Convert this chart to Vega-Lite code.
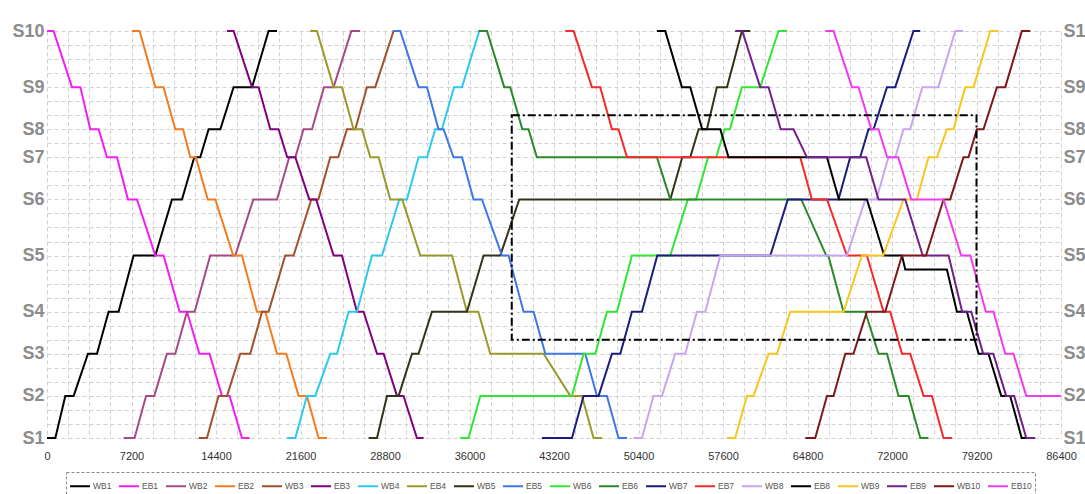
{
"$schema": "https://vega.github.io/schema/vega-lite/v6.json",
"autosize": {"type": "none"},
"width": 1014,
"height": 407,
"padding": {"left": 47, "top": 31, "right": 24, "bottom": 56},
"background": "white",
"config": {
  "view": {"stroke": null},
  "axis": {"domain": false, "ticks": false, "tickSize": 0, "gridColor": "#d0d0d0", "gridDash": [4, 3], "gridWidth": 1, "labelFont": "Liberation Sans", "titleFont": "Liberation Sans"},
  "legend": {"labelFont": "Liberation Sans"}
},
"datasets": {
  "box": [{"t1": 39600, "t2": 79200, "d1": 7, "d2": 23}],
  "trains": [
{"n":"WB1","t":0,"d":0},{"n":"WB1","t":710,"d":0},{"n":"WB1","t":1560,"d":3},{"n":"WB1","t":2270,"d":3},{"n":"WB1","t":3490,"d":6},{"n":"WB1","t":4260,"d":6},{"n":"WB1","t":5250,"d":9},{"n":"WB1","t":6100,"d":9},{"n":"WB1","t":7380,"d":13},{"n":"WB1","t":9230,"d":13},{"n":"WB1","t":10650,"d":17},{"n":"WB1","t":11500,"d":17},{"n":"WB1","t":12550,"d":20},{"n":"WB1","t":13060,"d":20},{"n":"WB1","t":13770,"d":22},{"n":"WB1","t":14770,"d":22},{"n":"WB1","t":15900,"d":25},{"n":"WB1","t":17470,"d":25},{"n":"WB1","t":18880,"d":29},{"n":"WB1","t":19600,"d":29},
{"n":"EB1","t":0,"d":29},{"n":"EB1","t":560,"d":29},{"n":"EB1","t":2130,"d":25},{"n":"EB1","t":2840,"d":25},{"n":"EB1","t":3690,"d":22},{"n":"EB1","t":4400,"d":22},{"n":"EB1","t":5110,"d":20},{"n":"EB1","t":5960,"d":20},{"n":"EB1","t":6900,"d":17},{"n":"EB1","t":7670,"d":17},{"n":"EB1","t":9230,"d":13},{"n":"EB1","t":9930,"d":13},{"n":"EB1","t":11300,"d":9},{"n":"EB1","t":11930,"d":9},{"n":"EB1","t":12980,"d":6},{"n":"EB1","t":13850,"d":6},{"n":"EB1","t":14910,"d":3},{"n":"EB1","t":15560,"d":3},{"n":"EB1","t":16610,"d":0},{"n":"EB1","t":17260,"d":0},
{"n":"WB2","t":6530,"d":0},{"n":"WB2","t":7460,"d":0},{"n":"WB2","t":8440,"d":3},{"n":"WB2","t":9140,"d":3},{"n":"WB2","t":10220,"d":6},{"n":"WB2","t":10930,"d":6},{"n":"WB2","t":11930,"d":9},{"n":"WB2","t":12580,"d":9},{"n":"WB2","t":13910,"d":13},{"n":"WB2","t":16040,"d":13},{"n":"WB2","t":17580,"d":17},{"n":"WB2","t":19600,"d":17},{"n":"WB2","t":20640,"d":20},{"n":"WB2","t":21160,"d":20},{"n":"WB2","t":21860,"d":22},{"n":"WB2","t":22580,"d":22},{"n":"WB2","t":23600,"d":25},{"n":"WB2","t":24420,"d":25},{"n":"WB2","t":25930,"d":29},{"n":"WB2","t":26690,"d":29},
{"n":"EB2","t":7240,"d":29},{"n":"EB2","t":7890,"d":29},{"n":"EB2","t":9230,"d":25},{"n":"EB2","t":9930,"d":25},{"n":"EB2","t":10930,"d":22},{"n":"EB2","t":11590,"d":22},{"n":"EB2","t":12210,"d":20},{"n":"EB2","t":12680,"d":20},{"n":"EB2","t":13700,"d":17},{"n":"EB2","t":14340,"d":17},{"n":"EB2","t":15870,"d":13},{"n":"EB2","t":16610,"d":13},{"n":"EB2","t":17890,"d":9},{"n":"EB2","t":18600,"d":9},{"n":"EB2","t":19600,"d":6},{"n":"EB2","t":20390,"d":6},{"n":"EB2","t":21440,"d":3},{"n":"EB2","t":22150,"d":3},{"n":"EB2","t":23140,"d":0},{"n":"EB2","t":23860,"d":0},
{"n":"WB3","t":12920,"d":0},{"n":"WB3","t":13630,"d":0},{"n":"WB3","t":14620,"d":3},{"n":"WB3","t":15340,"d":3},{"n":"WB3","t":16470,"d":6},{"n":"WB3","t":17320,"d":6},{"n":"WB3","t":18320,"d":9},{"n":"WB3","t":18880,"d":9},{"n":"WB3","t":20300,"d":13},{"n":"WB3","t":21010,"d":13},{"n":"WB3","t":22520,"d":17},{"n":"WB3","t":23120,"d":17},{"n":"WB3","t":24140,"d":20},{"n":"WB3","t":24820,"d":20},{"n":"WB3","t":25560,"d":22},{"n":"WB3","t":26270,"d":22},{"n":"WB3","t":27260,"d":25},{"n":"WB3","t":27970,"d":25},{"n":"WB3","t":29530,"d":29},{"n":"WB3","t":30100,"d":29},
{"n":"EB3","t":15340,"d":29},{"n":"EB3","t":15900,"d":29},{"n":"EB3","t":17470,"d":25},{"n":"EB3","t":18030,"d":25},{"n":"EB3","t":19030,"d":22},{"n":"EB3","t":19730,"d":22},{"n":"EB3","t":20470,"d":20},{"n":"EB3","t":21160,"d":20},{"n":"EB3","t":22350,"d":17},{"n":"EB3","t":22940,"d":17},{"n":"EB3","t":24420,"d":13},{"n":"EB3","t":25130,"d":13},{"n":"EB3","t":26410,"d":9},{"n":"EB3","t":26970,"d":9},{"n":"EB3","t":28120,"d":6},{"n":"EB3","t":28680,"d":6},{"n":"EB3","t":29820,"d":3},{"n":"EB3","t":30380,"d":3},{"n":"EB3","t":31520,"d":0},{"n":"EB3","t":32090,"d":0},
{"n":"WB4","t":20450,"d":0},{"n":"WB4","t":21160,"d":0},{"n":"WB4","t":22150,"d":3},{"n":"WB4","t":22860,"d":3},{"n":"WB4","t":24140,"d":6},{"n":"WB4","t":24710,"d":6},{"n":"WB4","t":25700,"d":9},{"n":"WB4","t":26410,"d":9},{"n":"WB4","t":27690,"d":13},{"n":"WB4","t":28540,"d":13},{"n":"WB4","t":30020,"d":17},{"n":"WB4","t":30670,"d":17},{"n":"WB4","t":31660,"d":20},{"n":"WB4","t":32380,"d":20},{"n":"WB4","t":33080,"d":22},{"n":"WB4","t":33650,"d":22},{"n":"WB4","t":34680,"d":25},{"n":"WB4","t":35360,"d":25},{"n":"WB4","t":36830,"d":29},{"n":"WB4","t":37170,"d":29},
{"n":"EB4","t":22430,"d":29},{"n":"EB4","t":23000,"d":29},{"n":"EB4","t":24420,"d":25},{"n":"EB4","t":25130,"d":25},{"n":"EB4","t":26120,"d":22},{"n":"EB4","t":26840,"d":22},{"n":"EB4","t":27550,"d":20},{"n":"EB4","t":28250,"d":20},{"n":"EB4","t":29250,"d":17},{"n":"EB4","t":30270,"d":17},{"n":"EB4","t":31810,"d":13},{"n":"EB4","t":34510,"d":13},{"n":"EB4","t":35780,"d":9},{"n":"EB4","t":36750,"d":9},{"n":"EB4","t":37770,"d":6},{"n":"EB4","t":42310,"d":6},{"n":"EB4","t":44590,"d":3},{"n":"EB4","t":45580,"d":3},{"n":"EB4","t":46570,"d":0},{"n":"EB4","t":47290,"d":0},
{"n":"WB5","t":27400,"d":0},{"n":"WB5","t":28120,"d":0},{"n":"WB5","t":28970,"d":3},{"n":"WB5","t":29960,"d":3},{"n":"WB5","t":31100,"d":6},{"n":"WB5","t":31660,"d":6},{"n":"WB5","t":32800,"d":9},{"n":"WB5","t":35780,"d":9},{"n":"WB5","t":37200,"d":13},{"n":"WB5","t":38620,"d":13},{"n":"WB5","t":40240,"d":17},{"n":"WB5","t":53110,"d":17},{"n":"WB5","t":54130,"d":20},{"n":"WB5","t":54810,"d":20},{"n":"WB5","t":55520,"d":22},{"n":"WB5","t":56230,"d":22},{"n":"WB5","t":57080,"d":25},{"n":"WB5","t":57940,"d":25},{"n":"WB5","t":59210,"d":29},{"n":"WB5","t":59920,"d":29},
{"n":"EB5","t":29530,"d":29},{"n":"EB5","t":30100,"d":29},{"n":"EB5","t":31660,"d":25},{"n":"EB5","t":32380,"d":25},{"n":"EB5","t":33360,"d":22},{"n":"EB5","t":33790,"d":22},{"n":"EB5","t":34640,"d":20},{"n":"EB5","t":35360,"d":20},{"n":"EB5","t":36350,"d":17},{"n":"EB5","t":37060,"d":17},{"n":"EB5","t":38770,"d":13},{"n":"EB5","t":39330,"d":13},{"n":"EB5","t":40610,"d":9},{"n":"EB5","t":41460,"d":9},{"n":"EB5","t":42460,"d":6},{"n":"EB5","t":45860,"d":6},{"n":"EB5","t":46860,"d":3},{"n":"EB5","t":47710,"d":3},{"n":"EB5","t":48700,"d":0},{"n":"EB5","t":49420,"d":0},
{"n":"WB6","t":35210,"d":0},{"n":"WB6","t":35920,"d":0},{"n":"WB6","t":36920,"d":3},{"n":"WB6","t":44730,"d":3},{"n":"WB6","t":45720,"d":6},{"n":"WB6","t":46720,"d":6},{"n":"WB6","t":47710,"d":9},{"n":"WB6","t":48560,"d":9},{"n":"WB6","t":49840,"d":13},{"n":"WB6","t":53110,"d":13},{"n":"WB6","t":54600,"d":17},{"n":"WB6","t":55300,"d":17},{"n":"WB6","t":56330,"d":20},{"n":"WB6","t":57020,"d":20},{"n":"WB6","t":57740,"d":22},{"n":"WB6","t":58190,"d":22},{"n":"WB6","t":59210,"d":25},{"n":"WB6","t":60770,"d":25},{"n":"WB6","t":62330,"d":29},{"n":"WB6","t":63050,"d":29},
{"n":"EB6","t":36770,"d":29},{"n":"EB6","t":37490,"d":29},{"n":"EB6","t":38960,"d":25},{"n":"EB6","t":39470,"d":25},{"n":"EB6","t":40500,"d":22},{"n":"EB6","t":41030,"d":22},{"n":"EB6","t":41740,"d":20},{"n":"EB6","t":51970,"d":20},{"n":"EB6","t":53110,"d":17},{"n":"EB6","t":64270,"d":17},{"n":"EB6","t":66400,"d":13},{"n":"EB6","t":66570,"d":13},{"n":"EB6","t":67870,"d":9},{"n":"EB6","t":69720,"d":9},{"n":"EB6","t":70850,"d":6},{"n":"EB6","t":71570,"d":6},{"n":"EB6","t":72560,"d":3},{"n":"EB6","t":73410,"d":3},{"n":"EB6","t":74410,"d":0},{"n":"EB6","t":75110,"d":0},
{"n":"WB7","t":42170,"d":0},{"n":"WB7","t":44730,"d":0},{"n":"WB7","t":45720,"d":3},{"n":"WB7","t":47000,"d":3},{"n":"WB7","t":48140,"d":6},{"n":"WB7","t":48850,"d":6},{"n":"WB7","t":49840,"d":9},{"n":"WB7","t":50690,"d":9},{"n":"WB7","t":52000,"d":13},{"n":"WB7","t":61630,"d":13},{"n":"WB7","t":63120,"d":17},{"n":"WB7","t":67440,"d":17},{"n":"WB7","t":68440,"d":20},{"n":"WB7","t":69290,"d":20},{"n":"WB7","t":70000,"d":22},{"n":"WB7","t":70430,"d":22},{"n":"WB7","t":71570,"d":25},{"n":"WB7","t":72280,"d":25},{"n":"WB7","t":73830,"d":29},{"n":"WB7","t":74410,"d":29},
{"n":"EB7","t":44160,"d":29},{"n":"EB7","t":44870,"d":29},{"n":"EB7","t":46430,"d":25},{"n":"EB7","t":47140,"d":25},{"n":"EB7","t":48140,"d":22},{"n":"EB7","t":48700,"d":22},{"n":"EB7","t":49420,"d":20},{"n":"EB7","t":64180,"d":20},{"n":"EB7","t":65180,"d":17},{"n":"EB7","t":66460,"d":17},{"n":"EB7","t":68160,"d":13},{"n":"EB7","t":69860,"d":13},{"n":"EB7","t":71280,"d":9},{"n":"EB7","t":71850,"d":9},{"n":"EB7","t":72850,"d":6},{"n":"EB7","t":73550,"d":6},{"n":"EB7","t":74690,"d":3},{"n":"EB7","t":75400,"d":3},{"n":"EB7","t":76390,"d":0},{"n":"EB7","t":77110,"d":0},
{"n":"WB8","t":49980,"d":0},{"n":"WB8","t":50690,"d":0},{"n":"WB8","t":51680,"d":3},{"n":"WB8","t":52400,"d":3},{"n":"WB8","t":53530,"d":6},{"n":"WB8","t":54380,"d":6},{"n":"WB8","t":55380,"d":9},{"n":"WB8","t":56090,"d":9},{"n":"WB8","t":57370,"d":13},{"n":"WB8","t":68160,"d":13},{"n":"WB8","t":69720,"d":17},{"n":"WB8","t":70660,"d":17},{"n":"WB8","t":71700,"d":20},{"n":"WB8","t":72280,"d":20},{"n":"WB8","t":72980,"d":22},{"n":"WB8","t":73550,"d":22},{"n":"WB8","t":74580,"d":25},{"n":"WB8","t":75940,"d":25},{"n":"WB8","t":77390,"d":29},{"n":"WB8","t":78070,"d":29},
{"n":"EB8","t":51970,"d":29},{"n":"EB8","t":52680,"d":29},{"n":"EB8","t":54100,"d":25},{"n":"EB8","t":54810,"d":25},{"n":"EB8","t":55830,"d":22},{"n":"EB8","t":57370,"d":22},{"n":"EB8","t":58070,"d":20},{"n":"EB8","t":66460,"d":20},{"n":"EB8","t":67480,"d":17},{"n":"EB8","t":69860,"d":17},{"n":"EB8","t":71340,"d":13},{"n":"EB8","t":72850,"d":13},{"n":"EB8","t":73130,"d":12},{"n":"EB8","t":76680,"d":12},{"n":"EB8","t":77530,"d":9},{"n":"EB8","t":78380,"d":9},{"n":"EB8","t":79380,"d":6},{"n":"EB8","t":80220,"d":6},{"n":"EB8","t":81310,"d":3},{"n":"EB8","t":82070,"d":3},{"n":"EB8","t":83050,"d":0},{"n":"EB8","t":83780,"d":0},
{"n":"WB9","t":57940,"d":0},{"n":"WB9","t":58640,"d":0},{"n":"WB9","t":59640,"d":3},{"n":"WB9","t":60200,"d":3},{"n":"WB9","t":61480,"d":6},{"n":"WB9","t":62200,"d":6},{"n":"WB9","t":63330,"d":9},{"n":"WB9","t":67870,"d":9},{"n":"WB9","t":69440,"d":13},{"n":"WB9","t":71250,"d":13},{"n":"WB9","t":72980,"d":17},{"n":"WB9","t":74120,"d":17},{"n":"WB9","t":75110,"d":20},{"n":"WB9","t":75830,"d":20},{"n":"WB9","t":76680,"d":22},{"n":"WB9","t":77240,"d":22},{"n":"WB9","t":78240,"d":25},{"n":"WB9","t":78950,"d":25},{"n":"WB9","t":80370,"d":29},{"n":"WB9","t":81080,"d":29},
{"n":"EB9","t":58640,"d":29},{"n":"EB9","t":59240,"d":29},{"n":"EB9","t":60770,"d":25},{"n":"EB9","t":61480,"d":25},{"n":"EB9","t":62520,"d":22},{"n":"EB9","t":63610,"d":22},{"n":"EB9","t":64750,"d":20},{"n":"EB9","t":69800,"d":20},{"n":"EB9","t":70850,"d":17},{"n":"EB9","t":73130,"d":17},{"n":"EB9","t":74620,"d":13},{"n":"EB9","t":76820,"d":13},{"n":"EB9","t":77980,"d":9},{"n":"EB9","t":78750,"d":9},{"n":"EB9","t":79770,"d":6},{"n":"EB9","t":80630,"d":6},{"n":"EB9","t":81730,"d":3},{"n":"EB9","t":82410,"d":3},{"n":"EB9","t":83440,"d":0},{"n":"EB9","t":84200,"d":0},
{"n":"WB10","t":64610,"d":0},{"n":"WB10","t":65460,"d":0},{"n":"WB10","t":66460,"d":3},{"n":"WB10","t":67020,"d":3},{"n":"WB10","t":68020,"d":6},{"n":"WB10","t":68720,"d":6},{"n":"WB10","t":69860,"d":9},{"n":"WB10","t":71420,"d":9},{"n":"WB10","t":72850,"d":13},{"n":"WB10","t":74900,"d":13},{"n":"WB10","t":76390,"d":17},{"n":"WB10","t":76960,"d":17},{"n":"WB10","t":78090,"d":20},{"n":"WB10","t":78520,"d":20},{"n":"WB10","t":79240,"d":22},{"n":"WB10","t":79800,"d":22},{"n":"WB10","t":80940,"d":25},{"n":"WB10","t":81650,"d":25},{"n":"WB10","t":83070,"d":29},{"n":"WB10","t":83780,"d":29},
{"n":"EB10","t":66310,"d":29},{"n":"EB10","t":67020,"d":29},{"n":"EB10","t":68590,"d":25},{"n":"EB10","t":69150,"d":25},{"n":"EB10","t":70230,"d":22},{"n":"EB10","t":70850,"d":22},{"n":"EB10","t":71590,"d":20},{"n":"EB10","t":72530,"d":20},{"n":"EB10","t":73640,"d":17},{"n":"EB10","t":76390,"d":17},{"n":"EB10","t":77900,"d":13},{"n":"EB10","t":78670,"d":13},{"n":"EB10","t":80000,"d":9},{"n":"EB10","t":80650,"d":9},{"n":"EB10","t":81650,"d":6},{"n":"EB10","t":82350,"d":6},{"n":"EB10","t":83440,"d":3},{"n":"EB10","t":86400,"d":3}
  ]
},
"layer": [
  {
    "data": {"name": "trains"},
    "mark": {"type": "line", "strokeWidth": 2, "interpolate": "linear"},
    "encoding": {
      "x": {"field": "t", "type": "quantitative",
        "scale": {"domain": [0, 86400], "nice": false, "zero": false},
        "axis": {"title": null, "values": [0,1800,3600,5400,7200,9000,10800,12600,14400,16200,18000,19800,21600,23400,25200,27000,28800,30600,32400,34200,36000,37800,39600,41400,43200,45000,46800,48600,50400,52200,54000,55800,57600,59400,61200,63000,64800,66600,68400,70200,72000,73800,75600,77400,79200,81000,82800,84600,86400],
          "format": "d", "labelExpr": "datum.value % 7200 === 0 ? datum.label : ''",
          "labelFontSize": 11, "labelColor": "#333333", "labelPadding": 12, "labelOverlap": false, "labelFlush": false, "grid": true}},
      "y": {"field": "d", "type": "quantitative",
        "scale": {"domain": [0, 29], "nice": false, "zero": false},
        "axis": {"title": null, "orient": "left", "values": [0,1,2,3,4,5,6,7,8,9,10,11,12,13,14,15,16,17,18,19,20,21,22,23,24,25,26,27,28,29],
          "labelExpr": "datum.value == 0 ? 'S1' : datum.value == 3 ? 'S2' : datum.value == 6 ? 'S3' : datum.value == 9 ? 'S4' : datum.value == 13 ? 'S5' : datum.value == 17 ? 'S6' : datum.value == 20 ? 'S7' : datum.value == 22 ? 'S8' : datum.value == 25 ? 'S9' : datum.value == 29 ? 'S10' : ''",
          "labelFontSize": 18, "labelFontWeight": "bold", "labelColor": "#8c8c8c", "labelPadding": 3, "labelOverlap": false, "grid": true}},
      "color": {"field": "n", "type": "nominal",
        "scale": {"domain": ["WB1","EB1","WB2","EB2","WB3","EB3","WB4","EB4","WB5","EB5","WB6","EB6","WB7","EB7","WB8","EB8","WB9","EB9","WB10","EB10"],
          "range": ["#000000","#f21ff2","#a64a86","#f47c20","#a0522d","#800080","#2ec8f0","#9a9a2a","#33331a","#3f77e6","#33e533","#2a8a2a","#1c1c7c","#f52a2a","#c7a6f2","#000000","#f8c61e","#74208a","#7f1818","#f03cf0"]},
        "legend": {"title": null, "orient": "none", "legendX": 19, "legendY": 441, "direction": "horizontal", "columns": 20, "symbolType": "stroke", "symbolStrokeWidth": 2, "symbolSize": 400, "labelFontSize": 8.5, "labelColor": "#555555", "labelOffset": 2, "columnPadding": 3, "padding": 3, "strokeColor": "#8a8a8a",
          "encode": {"legend": {"update": {"strokeDash": {"value": [3, 2]}}}}}}
    }
  },
  {
    "data": {"name": "box"},
    "mark": {"type": "rect", "fillOpacity": 0, "stroke": "#000000", "strokeWidth": 2, "strokeDash": [8, 3, 2, 3]},
    "encoding": {
      "x": {"field": "t1", "type": "quantitative",
        "axis": {"title": null, "values": [0,1800,3600,5400,7200,9000,10800,12600,14400,16200,18000,19800,21600,23400,25200,27000,28800,30600,32400,34200,36000,37800,39600,41400,43200,45000,46800,48600,50400,52200,54000,55800,57600,59400,61200,63000,64800,66600,68400,70200,72000,73800,75600,77400,79200,81000,82800,84600,86400],
          "format": "d", "labelExpr": "datum.value % 7200 === 0 ? datum.label : ''",
          "labelFontSize": 11, "labelColor": "#333333", "labelPadding": 12, "labelOverlap": false, "labelFlush": false, "grid": true}},
      "x2": {"field": "t2"},
      "y": {"field": "d1", "type": "quantitative",
        "axis": {"title": null, "orient": "right", "values": [0,3,6,9,13,17,20,22,25,29], "grid": false,
          "labelExpr": "datum.value == 0 ? 'S1' : datum.value == 3 ? 'S2' : datum.value == 6 ? 'S3' : datum.value == 9 ? 'S4' : datum.value == 13 ? 'S5' : datum.value == 17 ? 'S6' : datum.value == 20 ? 'S7' : datum.value == 22 ? 'S8' : datum.value == 25 ? 'S9' : datum.value == 29 ? 'S10' : ''",
          "labelFontSize": 18, "labelFontWeight": "bold", "labelColor": "#8c8c8c", "labelPadding": 2, "labelOverlap": false}},
      "y2": {"field": "d2"}
    }
  }
],
"resolve": {"axis": {"y": "independent"}}
}
